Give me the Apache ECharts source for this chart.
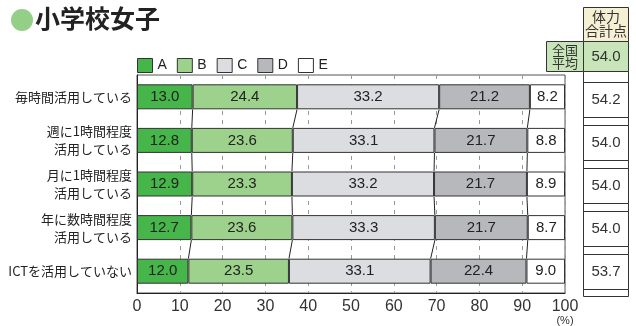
<!DOCTYPE html>
<html><head><meta charset="utf-8">
<script src="https://cdn.jsdelivr.net/npm/echarts@6/dist/echarts.min.js"></script>
<style>html,body{margin:0;padding:0;background:#fff}#c{width:636px;height:326px}</style>
</head><body><div id="c"></div>
<script>
const categories = ['毎時間活用している','週に1時間程度\n活用している','月に1時間程度\n活用している','年に数時間程度\n活用している','ICTを活用していない'];
const seriesNames = ['A','B','C','D','E'];
const valA = [13.0, 12.8, 12.9, 12.7, 12.0];
const valB = [24.4, 23.6, 23.3, 23.6, 23.5];
const valC = [33.2, 33.1, 33.2, 33.3, 33.1];
const valD = [21.2, 21.7, 21.7, 21.7, 22.4];
const valE = [8.2, 8.8, 8.9, 8.7, 9.0];
const scores = [54.2, 54.0, 54.0, 54.0, 53.7];
const nationalAvg = 54.0;
const titleText = '小学校女子';
const headerText = '体力\n合計点';
const avgLabel = '全国\n平均';

const colors = ['#46b54a', '#9dd28c', '#dcdde0', '#b7b8bc', '#ffffff'];
const allVals = [valA, valB, valC, valD, valE];
const FONT = '"Liberation Sans", Arial, sans-serif';
const JFONT = '"Noto Sans CJK JP", sans-serif';
const BAR_W = 25;

// connectors between cumulative boundaries
const connectors = [];
for (let i = 0; i < categories.length - 1; i++) {
  let c1 = 0, c2 = 0;
  for (let k = 0; k < 4; k++) {
    c1 += allVals[k][i]; c2 += allVals[k][i + 1];
    connectors.push([c1, i, c2]);
  }
}

const chart = echarts.init(document.getElementById('c'));
const barSeries = seriesNames.map((n, k) => ({
  name: n, type: 'bar', stack: 'total', barWidth: BAR_W,
  xAxisIndex: 0, yAxisIndex: 0,
  itemStyle: { color: colors[k], borderColor: '#333', borderWidth: 1 },
  label: { show: true, position: 'inside', fontSize: 15, fontFamily: FONT, color: '#222',
    formatter: p => p.value.toFixed(1) },
  data: allVals[k]
}));

chart.setOption({
  animation: false,
  textStyle: { fontFamily: FONT },
  legend: {
    data: seriesNames, left: 132, top: 53, icon: 'rect',
    itemWidth: 15, itemHeight: 14, itemGap: 10,
    textStyle: { fontSize: 14, color: '#222', width: 27, fontFamily: FONT },
    itemStyle: { borderColor: '#333', borderWidth: 1 }
  },
  grid: [
    { left: 137, right: 71, top: 75, bottom: 33, show: true, borderColor: '#555', borderWidth: 1 },
    { left: 583, width: 46, top: 78, bottom: 33 }
  ],
  xAxis: [
    { type: 'value', gridIndex: 0, min: 0, max: 100, interval: 10,
      axisLine: { show: true, lineStyle: { color: '#222' } },
      axisTick: { show: false },
      splitLine: { show: true, lineStyle: { color: '#999', type: [4, 5] } },
      axisLabel: { fontSize: 16, color: '#333', margin: 6, fontFamily: FONT,
        formatter: v => v === 100 ? '100\n{u|(%)}' : String(v),
        rich: { u: { fontSize: 11, color: '#333', lineHeight: 11, fontFamily: FONT } } } },
    { type: 'value', gridIndex: 1, min: 0, max: 1, show: false }
  ],
  yAxis: [
    { type: 'category', gridIndex: 0, inverse: true, data: categories,
      axisLine: { show: true, lineStyle: { color: '#222' } },
      axisTick: { show: false },
      axisLabel: { fontSize: 13, color: '#222', lineHeight: 18, margin: 5, fontFamily: JFONT } },
    { type: 'category', gridIndex: 1, inverse: true, data: categories, show: false }
  ],
  graphic: [
    { type: 'circle', shape: { cx: 22, cy: 20, r: 11 }, style: { fill: '#93cf87' } },
    { type: 'text', left: 35, top: 6, style: { text: titleText, font: 'bold 25px "Noto Sans CJK JP"', fill: '#222' } },
    { type: 'rect', shape: { x: 583.5, y: 7.5, width: 45, height: 34 }, style: { fill: '#f5efd3', stroke: '#333', lineWidth: 1 } },
    { type: 'text', x: 606, y: 23.5, style: { text: headerText, font: '14px "Noto Sans CJK JP"', lineHeight: 14, fill: '#333', align: 'center', verticalAlign: 'middle' } },
    { type: 'rect', shape: { x: 546.5, y: 41.5, width: 37, height: 30 }, style: { fill: '#c8e4b9', stroke: '#333', lineWidth: 1 } },
    { type: 'text', x: 565, y: 56.5, style: { text: avgLabel, font: '13px "Noto Sans CJK JP"', lineHeight: 13, fill: '#333', align: 'center', verticalAlign: 'middle' } },
    { type: 'rect', shape: { x: 583.5, y: 41.5, width: 45, height: 30 }, style: { fill: '#c8e4b9', stroke: '#333', lineWidth: 1 } },
    { type: 'text', x: 606, y: 57, style: { text: nationalAvg.toFixed(1), font: '15px "Liberation Sans"', fill: '#333', align: 'center', verticalAlign: 'middle' } },
    { type: 'rect', shape: { x: 583.5, y: 71.5, width: 45, height: 225 }, style: { fill: '#fff', stroke: '#333', lineWidth: 1 } }
  ],
  series: barSeries.concat([
    { type: 'custom', xAxisIndex: 0, yAxisIndex: 0, z: 5, silent: true,
      encode: { x: [0, 2], y: 1 },
      renderItem: (params, api) => {
        const p1 = api.coord([api.value(0), api.value(1)]);
        const p2 = api.coord([api.value(2), api.value(1) + 1]);
        const h = BAR_W / 2;
        return { type: 'line', shape: { x1: p1[0], y1: p1[1] + h, x2: p2[0], y2: p2[1] - h },
          style: { stroke: '#222', lineWidth: 1 } };
      },
      data: connectors },
    { type: 'custom', xAxisIndex: 1, yAxisIndex: 1, silent: true,
      encode: { x: 1, y: 0 },
      renderItem: (params, api) => {
        const c = api.coord([0, api.value(0)]);
        const w = api.size([1, 0])[0];
        return { type: 'rect', shape: { x: Math.round(c[0]) + 0.5, y: Math.round(c[1] - 17.5) + 0.5, width: Math.round(w) - 1, height: 35 },
          style: { fill: '#fff', stroke: '#333', lineWidth: 1 },
          textContent: { style: { text: scores[params.dataIndex].toFixed(1), font: '15px "Liberation Sans"', fill: '#333' } },
          textConfig: { position: 'inside' } };
      },
      data: scores.map((s, i) => [i, 1]) }
  ])
});
</script></body></html>
